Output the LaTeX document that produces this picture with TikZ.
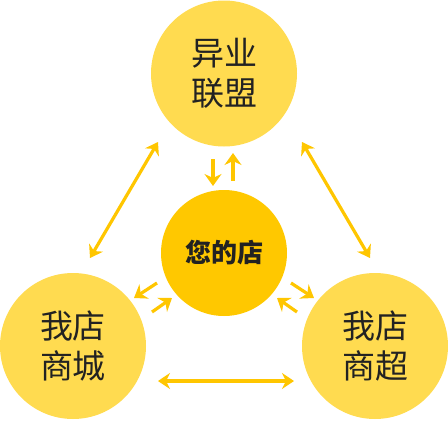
\documentclass[tikz,border=0pt]{standalone}
\usepackage{fontspec}
\newfontfamily\cjk{Noto Sans CJK SC}
\usetikzlibrary{arrows.meta}

\definecolor{outerfill}{HTML}{FFDB50}
\definecolor{innerfill}{HTML}{FFC800}
\definecolor{linkcol}{HTML}{FFC600}
\definecolor{textcol}{HTML}{222222}

\begin{document}
\begin{tikzpicture} [x=1pt,y=-1pt,
    partner/.style={circle,fill=outerfill,minimum size=146pt,inner sep=0pt,
        align=center,text=textcol,font=\cjk\fontsize{33}{40}\selectfont},
    shop/.style={circle,fill=innerfill,minimum size=126pt,inner sep=0pt,
        text=textcol,font=\cjk\bfseries\fontsize{26}{30}\selectfont},
    link/.style={draw=linkcol,line width=3.2pt,
        {Stealth[length=12pt,width=16pt,inset=4pt]}-{Stealth[length=12pt,width=16pt,inset=4pt]}},
    oneway/.style={draw=linkcol,line width=3.2pt,-{Stealth[length=12pt,width=17pt,inset=4pt]}}]
    \useasboundingbox (0,0) rectangle (448,421);

    % main circles
    \node[partner] (alliance) at (224,73.5) {异业\\联盟};
    \node[partner] (mall) at (73,346) {我店\\商城};
    \node[partner] (market) at (375,346) {我店\\商超};
    \node[shop] (yours) at (224,253) {您的店};

    % ends of the arrows
    \coordinate (ml) at (90,258);   \coordinate (al) at (158,142);
    \coordinate (ar) at (302,142);  \coordinate (mr) at (370,258);
    \coordinate (bl) at (158,381);  \coordinate (br) at (294,381);

    % long arrows between the outer circles
    \draw[link] (ml) -- (al);
    \draw[link] (ar) -- (mr);
    \draw[link] (bl) -- (br);

    % short arrows to and from the centre
    \coordinate (t1) at (213,159);  \coordinate (t2) at (213,186);
    \coordinate (t3) at (233,181);  \coordinate (t4) at (233,153);
    \draw[oneway] (t1) -- (t2);
    \draw[oneway] (t3) -- (t4);

    \coordinate (l1) at (157,283);  \coordinate (l2) at (134,298);
    \coordinate (l3) at (152,312);  \coordinate (l4) at (172,298);
    \draw[oneway] (l1) -- (l2);
    \draw[oneway] (l3) -- (l4);

    \coordinate (r1) at (291,283);  \coordinate (r2) at (314,298);
    \coordinate (r3) at (297,312);  \coordinate (r4) at (277,298);
    \draw[oneway] (r1) -- (r2);
    \draw[oneway] (r3) -- (r4);

\end{tikzpicture}
\end{document}
